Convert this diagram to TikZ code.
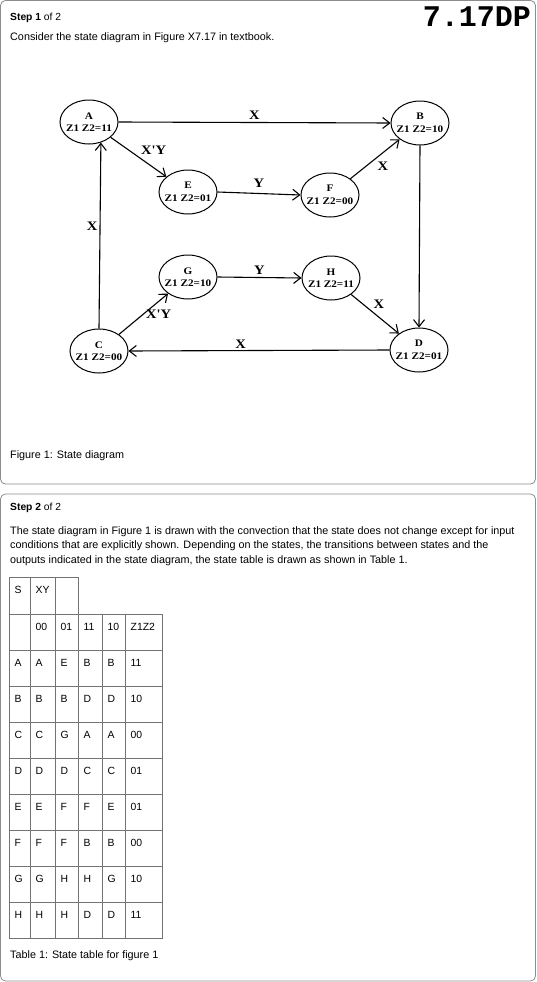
\documentclass[tikz,border=0pt]{standalone}
\usepackage{fontspec}
\setmainfont{Liberation Sans}
\newfontfamily\figserif[FakeStretch=1.12]{Liberation Serif}
\newfontfamily\figmono{Liberation Mono}
\usetikzlibrary{arrows.meta,shapes.geometric}

\begin{document}
\begin{tikzpicture}[x=1pt,y=-1pt,
  panel/.style={draw=black!45,rounded corners=5pt,line width=0.8pt},
  state/.style={draw,ellipse,line width=1pt,inner xsep=-5pt,inner ysep=0pt,
                minimum width=58pt,minimum height=44pt,align=center,
                font=\figserif\bfseries\fontsize{10}{12.5}\selectfont},
  lbl/.style={font=\figserif\bfseries\fontsize{13}{13}\selectfont,inner sep=2pt},
  txt/.style={anchor=west,inner sep=0pt,font=\fontsize{10.8}{14.5}\selectfont},
  head/.style={anchor=west,inner sep=0pt,font=\fontsize{10.3}{12}\selectfont},
  cell/.style={draw=black!55,line width=0.5pt},
  ctext/.style={anchor=west,inner sep=0pt,font=\fontsize{10.4}{12}\selectfont},
  trans/.style={->,line width=1.1pt},
  >={Straight Barb[length=7pt,width=11pt]}]
\useasboundingbox (0,0) rectangle (536,982);
\draw[panel] (0.5,0.5) rectangle (535.5,484);
\draw[panel] (0.5,494) rectangle (535.5,981);

\node[head] (step1) at (10,18) {\textbf{Step 1} of 2};
\node[anchor=east,inner sep=0pt,font=\figmono\bfseries\fontsize{30}{30}\selectfont] (title) at (531,17) {7.17DP};
\node[txt] (intro) at (10,38) {Consider the state diagram in Figure X7.17 in textbook.};

\node[state] (A) at (89,122) {A\\Z1 Z2=11};
\node[state] (B) at (420,123) {B\\Z1 Z2=10};
\node[state] (E) at (188,192) {E\\Z1 Z2=01};
\node[state] (F) at (330,195) {F\\Z1 Z2=00};
\node[state] (G) at (188,277) {G\\Z1 Z2=10};
\node[state] (H) at (331,278) {H\\Z1 Z2=11};
\node[state] (C) at (99,351) {C\\Z1 Z2=00};
\node[state] (D) at (419,350) {D\\Z1 Z2=01};

\draw[trans] (A.east) -- (B.west) node[lbl,midway,above] {X};
\draw[trans] (A) -- (E) node[lbl,midway,above right] {X'Y};
\draw[trans] (E.east) -- (F.west) node[lbl,midway,above=3pt] {Y};
\draw[trans] (F) -- (B) node[lbl,midway,below right] {X};
\draw[trans] (B.south) -- (D.north);
\draw[trans] (C.north) -- (A.-60) node[lbl,pos=0.55,left] {X};
\draw[trans] (C) -- (G) node[lbl,midway,right] {X'Y};
\draw[trans] (G.east) -- (H.west) node[lbl,midway,above] {Y};
\draw[trans] (H) -- (D) node[lbl,pos=0.42,above right] {X};
\draw[trans] (D.west) -- (C.east) node[lbl,pos=0.57,above] {X};

\node[txt] (cap1) at (10,456) {Figure 1: State diagram};

\node[head] (step2) at (10,508) {\textbf{Step 2} of 2};
\node[txt,align=left,anchor=north west] (expl) at (10,526) {The state diagram in Figure 1 is drawn with the convection that the state does not change except for input\\conditions that are explicitly shown. Depending on the states, the transitions between states and the\\outputs indicated in the state diagram, the state table is drawn as shown in Table 1.};

\foreach \xa/\xb/\t in {9/30/S,30/55/XY,55/78/{}}{
  \draw[cell] (\xa,577) rectangle (\xb,614);
  \node[ctext] (h-\xa) at (\xa+5.5,590) {\t};
}
\foreach \xa/\xb/\t in {9/30/{},30/55/00,55/78/01,78/102/11,102/125/10,125/162/Z1Z2}{
  \draw[cell] (\xa,614) rectangle (\xb,650);
  \node[ctext] (c-0-\xa) at (\xa+5.5,626.5) {\t};
}
\foreach \s/\a/\b/\c/\d/\z [count=\r] in {A/A/E/B/B/11,B/B/B/D/D/10,C/C/G/A/A/00,D/D/D/C/C/01,
    E/E/F/F/E/01,F/F/F/B/B/00,G/G/H/H/G/10,H/H/H/D/D/11}{
  \foreach \xa/\xb/\t in {9/30/\s,30/55/\a,55/78/\b,78/102/\c,102/125/\d,125/162/\z}{
    \draw[cell] (\xa,614+36*\r) rectangle (\xb,650+36*\r);
    \node[ctext] (c-\r-\xa) at (\xa+5.5,626.5+36*\r) {\t};
  }
}

\node[txt] (cap2) at (10,956) {Table 1: State table for figure 1};
\end{tikzpicture}
\end{document}
